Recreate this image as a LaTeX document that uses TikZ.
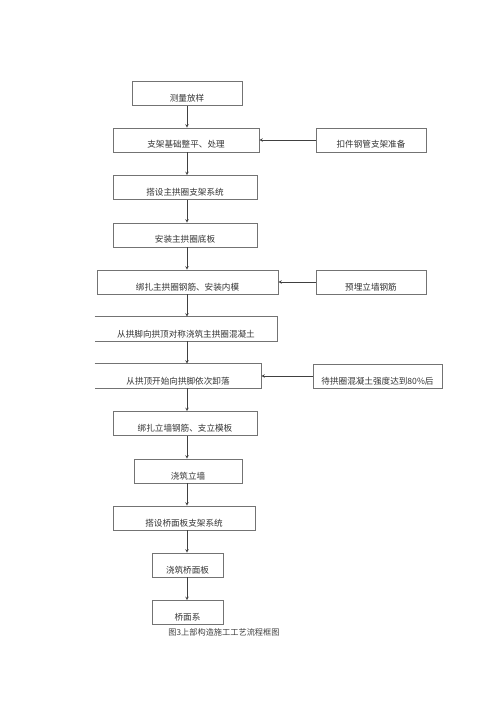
\documentclass[tikz,border=0pt]{standalone}
\usepackage{fontspec}
\newfontfamily\cjk{Noto Sans CJK SC}
\begin{document}
\begin{tikzpicture}[x=1pt,y=-1pt,
    procbox/.style={draw=black!55, line width=0.6pt, minimum height=24pt,
      inner sep=0pt, text height=20pt, text depth=4pt, text=black!80,
      font=\cjk\fontsize{8.6}{10}\selectfont},
    openbox/.style={procbox, draw=none},
    flow/.style={->, >=stealth, draw=black!75, line width=0.6pt}]
    \useasboundingbox (0,0) rectangle (500,708);
    \coordinate (col) at (187,0);
    % main column
    \node[procbox, minimum width=110pt] (b1) at (187,93.5) {测量放样};
    \node[procbox, minimum width=146pt] (b2) at (186,140) {支架基础整平、处理};
    \node[procbox, minimum width=144pt] (b3) at (185,187.5) {搭设主拱圈支架系统};
    \node[procbox, minimum width=144pt] (b4) at (185,235) {安装主拱圈底板};
    \node[procbox, minimum width=181pt] (b5) at (187.5,282) {绑扎主拱圈钢筋、安装内模};
    \node[openbox, minimum width=182pt] (b6) at (186,329) {从拱脚向拱顶对称浇筑主拱圈混凝土};
    \node[openbox, minimum width=166pt] (b7) at (178,376) {从拱顶开始向拱脚依次卸落};
    \node[procbox, minimum width=144pt] (b8) at (185,423.5) {绑扎立墙钢筋、支立模板};
    \node[procbox, minimum width=108pt] (b9) at (188,471) {浇筑立墙};
    \node[procbox, minimum width=142pt] (b10) at (184,518) {搭设桥面板支架系统};
    \node[procbox, minimum width=71pt] (b11) at (187.5,565) {浇筑桥面板};
    \node[procbox, minimum width=71pt] (b12) at (187.5,612.5) {桥面系};
    % side boxes
    \node[procbox, minimum width=110pt] (s1) at (371,140) {扣件钢管支架准备};
    \node[procbox, minimum width=110pt] (s2) at (371,282) {预埋立墙钢筋};
    \node[procbox, minimum width=129pt] (s3) at (377.5,376) {待拱圈混凝土强度达到80\%后};
    % boxes with no left side
    \draw[black!55, line width=0.6pt] (b6.north west) -- (b6.north east) -- (b6.south east) -- (b6.south west);
    \draw[black!55, line width=0.6pt] (b7.north west) -- (b7.north east) -- (b7.south east) -- (b7.south west);
    % arrows
    \foreach \a/\b in {b1/b2,b2/b3,b3/b4,b4/b5,b5/b6,b6/b7,b7/b8,b8/b9,b9/b10,b10/b11,b11/b12}
      \draw[flow] (\a.south -| col) -- (\b.north -| col);
    \draw[flow] (s1.west) -- (b2.east);
    \draw[flow] (s2.west) -- (b5.east);
    \draw[flow] (s3.west) -- (b7.east);
    \node[font=\cjk\fontsize{8.2}{10}\selectfont, text=black!75] (cap) at (224,632) {图3上部构造施工工艺流程框图};
\end{tikzpicture}
\end{document}
